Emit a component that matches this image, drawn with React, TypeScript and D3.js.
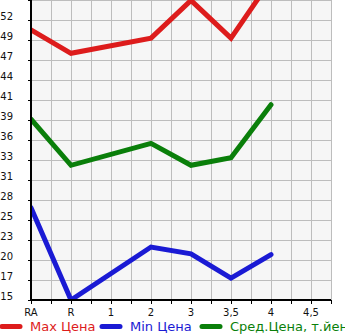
import React from "react";
import * as d3 from "d3";

const categories = ["RA", "R", "1", "2", "3", "3,5", "4", "4,5"];
const yTickLabels = ["15", "17", "20", "23", "25", "28", "31", "33", "36", "39", "41", "44", "47", "49", "52"];
const maxIdx = [0, 1, 3, 4, 5, 6];
const maxVals = [50.7, 47.6, 49.6, 54.6, 49.6, 57.3];
const minVals = [27.2, 15.0, 22.0, 21.1, 17.9, 21.0];
const avgVals = [38.9, 32.8, 35.7, 32.8, 33.8, 40.8];
const seriesNames = ["Max Цена", "Min Цена", "Сред.Цена, т.йен"];
const seriesColors = ["#dd1c1c", "#1a1ad4", "#0a7f0a"];

const W = 345, H = 335;
const left = 31, right = 331, top = 0, bottom = 300;
const yMin = 15, yStep = 37 / 14;

export default function App() {
  const x = d3.scaleLinear().domain([0, 7.5]).range([left, right]);
  const y = d3.scaleLinear().domain([yMin, yMin + 15 * yStep]).range([bottom, top]);
  const line = d3.line<[number, number]>().x(d => x(d[0])).y(d => y(d[1]));
  const series = [maxVals, minVals, avgVals];
  const gridX = d3.range(0, 16).map(i => i * 0.5);
  const gridY = d3.range(0, 16).map(k => yMin + k * yStep);
  const font = "'DejaVu Sans', sans-serif";
  const legendX = [0, 100, 200];
  return (
    <div style={{ position: "absolute", left: 0, top: 0 }}>
      <svg width={W} height={H} style={{ display: "block" }}>
        <defs>
          <clipPath id="plot">
            <rect x={left} y={top} width={right - left} height={bottom - top} />
          </clipPath>
        </defs>
        <rect x={left} y={top} width={right - left} height={bottom - top} fill="#f6f6f6" />
        {gridX.map((g, i) => (
          <line key={"gx" + i} x1={Math.round(x(g)) + 0.5} x2={Math.round(x(g)) + 0.5} y1={top} y2={bottom} stroke="#bdbdbd" strokeWidth={1} />
        ))}
        {gridY.map((g, i) => (
          <line key={"gy" + i} x1={left} x2={right} y1={Math.round(y(g)) + 0.5} y2={Math.round(y(g)) + 0.5} stroke="#bdbdbd" strokeWidth={1} />
        ))}
        <g clipPath="url(#plot)">
          {series.map((vals, si) => (
            <path key={"s" + si}
              d={line(vals.map((v, i) => [maxIdx[i], v] as [number, number])) || ""}
              fill="none" stroke={seriesColors[si]} strokeWidth={5}
              strokeLinecap="round" strokeLinejoin="miter" />
          ))}
        </g>
        {/* axes */}
        <line x1={left} x2={left} y1={top} y2={bottom + 1} stroke="#000" strokeWidth={2} />
        <line x1={left - 1} x2={right} y1={bottom} y2={bottom} stroke="#000" strokeWidth={2} />
        {gridX.map((g, i) => (
          <line key={"tx" + i} x1={Math.round(x(g)) + 0.5} x2={Math.round(x(g)) + 0.5} y1={bottom} y2={bottom + 4} stroke="#000" strokeWidth={1} />
        ))}
        {gridY.map((g, i) => (
          <line key={"ty" + i} x1={left - 3} x2={left} y1={Math.round(y(g)) + 0.5} y2={Math.round(y(g)) + 0.5} stroke="#000" strokeWidth={1} />
        ))}
        {yTickLabels.map((t, i) => (
          <text key={"yl" + i} x={13} y={y(yMin + i * yStep) - 0.5} textAnchor="end" fontFamily={font} fontSize={10} fill="#111">{t}</text>
        ))}
        {categories.map((c, i) => (
          <text key={"xl" + i} x={x(i)} y={316} textAnchor="middle" fontFamily={font} fontSize={10} fill="#111">{c}</text>
        ))}
        {seriesNames.map((n, i) => (
          <g key={"lg" + i}>
            <line x1={legendX[i] + 2} x2={legendX[i] + 20} y1={326.5} y2={326.5} stroke={seriesColors[i]} strokeWidth={5} strokeLinecap="round" />
            <text x={legendX[i] + 30} y={331} fontFamily={font} fontSize={13} fill={seriesColors[i]}>{n}</text>
          </g>
        ))}
      </svg>
    </div>
  );
}
